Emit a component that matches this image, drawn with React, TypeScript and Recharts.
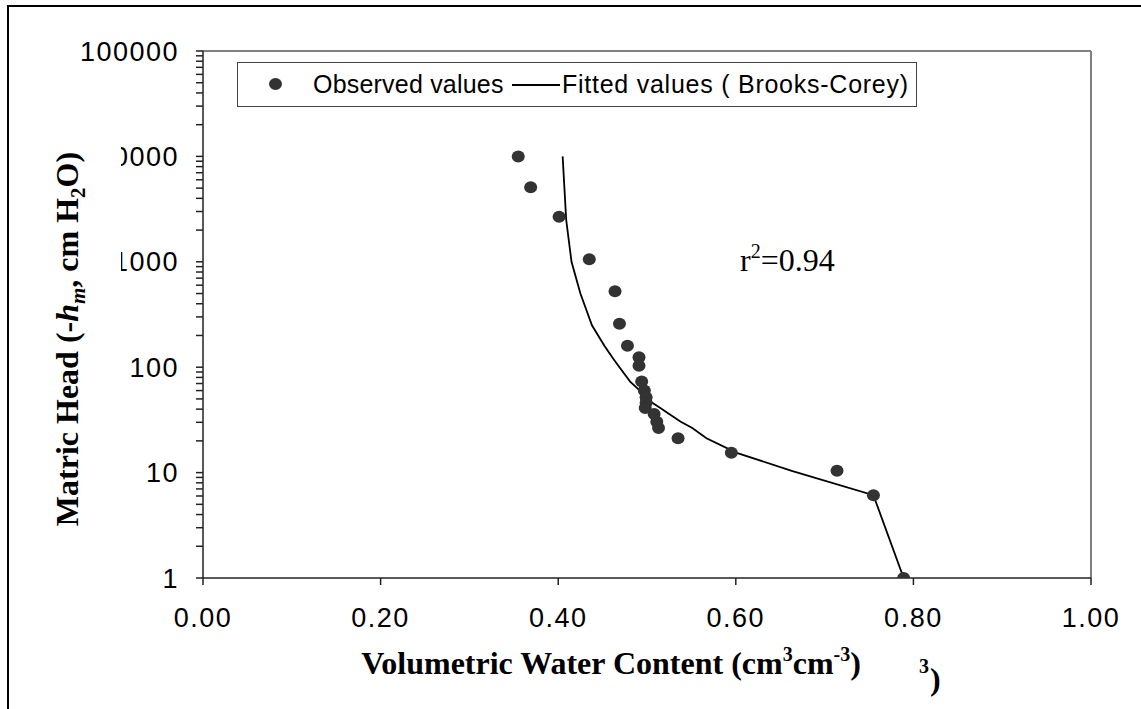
import { ComposedChart, Scatter, XAxis, YAxis, Legend, ReferenceLine, Label } from 'recharts';

// observed retention points (theta, -h)
const observedTheta = [0.355, 0.369, 0.401, 0.435, 0.464, 0.469, 0.478, 0.491, 0.491, 0.494, 0.497, 0.499, 0.499, 0.498, 0.508, 0.511, 0.513, 0.535, 0.595, 0.714, 0.755, 0.789];
const observedHead = [10000, 5100, 2680, 1060, 525, 259, 160, 124, 103, 73, 60, 52, 46, 41, 36, 30.4, 26.5, 21.2, 15.4, 10.4, 6.1, 1];

// fitted Brooks-Corey curve
const fittedTheta = [0.405, 0.407, 0.409, 0.415, 0.425, 0.438, 0.452, 0.462, 0.469, 0.481, 0.492, 0.498, 0.506, 0.515, 0.525, 0.538, 0.551, 0.567, 0.601, 0.663, 0.755, 0.789];
const fittedHead = [10000, 5000, 2500, 1000, 500, 250, 160, 120, 100, 73, 60, 52, 46, 41, 36, 30.4, 26.5, 21.2, 15.4, 10.4, 6.1, 1];

const xTicks = [0, 0.2, 0.4, 0.6, 0.8, 1];
const yDecades = [1, 10, 100, 1000, 10000, 100000];
const minorSteps = [2, 3, 4, 5, 6, 7, 8, 9];
// labels partly hidden behind the title's text box in the original
const clippedLabels = [1000, 10000];

const observed = observedTheta.map((t, i) => ({ theta: t, head: observedHead[i] }));
const fitted = fittedTheta.map((t, i) => ({ theta: t, head: fittedHead[i] }));

const yTicks: number[] = [];
yDecades.forEach((d, i) => {
  yTicks.push(d);
  if (i < yDecades.length - 1) minorSteps.forEach((m) => yTicks.push(d * m));
});

const SANS = '"Liberation Sans", Arial, sans-serif';
const SERIF = '"Liberation Serif", "Times New Roman", serif';

const Dot = (props: any) => (
  <ellipse cx={props.cx} cy={props.cy} rx={6.5} ry={6} fill="#333333" />
);

const NoShape = () => <g />;

const YTick = (props: any) => {
  const { x, y, payload } = props;
  const v = payload.value;
  if (!yDecades.includes(v)) return <g />;
  const clip = clippedLabels.includes(v);
  return (
    <g>
      {clip && (
        <defs>
          <clipPath id={`yclip-${v}`}>
            <rect x={121} y={y - 30} width={200} height={60} />
          </clipPath>
        </defs>
      )}
      <text
        x={x}
        y={y}
        dy="0.355em"
        textAnchor="end"
        fontSize={27}
        fill="#000"
        fontFamily={SANS}
        letterSpacing={1.5}
        clipPath={clip ? `url(#yclip-${v})` : undefined}
      >
        {String(v)}
      </text>
    </g>
  );
};

const renderLegend = () => (
  <div
    style={{
      position: 'relative',
      width: 680,
      height: 45,
      boxSizing: 'border-box',
      border: '1.5px solid #444',
      background: '#fff',
      fontFamily: SANS,
      fontSize: 25,
      color: '#000',
    }}
  >
    <span style={{ position: 'absolute', left: 31, top: 15, width: 13, height: 12, borderRadius: '50%', background: '#333' }} />
    <span style={{ position: 'absolute', left: 75, top: 6, lineHeight: '30px', whiteSpace: 'nowrap', letterSpacing: 0.2 }}>Observed values</span>
    <span style={{ position: 'absolute', left: 274, top: 21, width: 48, height: 2, background: '#000' }} />
    <span style={{ position: 'absolute', left: 324, top: 6, lineHeight: '30px', whiteSpace: 'nowrap', letterSpacing: 0.75 }}>Fitted values ( Brooks-Corey)</span>
  </div>
);

const renderYTitle = () => (
  <text
    x={78}
    y={339}
    transform="rotate(-90, 78, 339)"
    textAnchor="middle"
    fontFamily={SERIF}
    fontWeight="bold"
    fontSize={32}
    fill="#000"
  >
    Matric Head (-<tspan fontStyle="italic">h</tspan>
    <tspan fontStyle="italic" fontSize={21} dy={7}>m</tspan>
    <tspan dy={-7}>, cm H</tspan>
    <tspan fontSize={21} dy={7}>2</tspan>
    <tspan dy={-7}>O)</tspan>
  </text>
);

const renderXTitle = () => (
  <g fontFamily={SERIF} fill="#000">
    <text x={611} y={674} textAnchor="middle" fontWeight="bold" fontSize={32}>
      Volumetric Water Content (cm<tspan fontSize={20} dy={-13}>3</tspan>
      <tspan dy={13}>cm</tspan>
      <tspan fontSize={20} dy={-13}>-3</tspan>
      <tspan dy={13}>)</tspan>
    </text>
    <text x={919} y={673} fontWeight="bold" fontSize={20}>3</text>
    <text x={930} y={690} fontWeight="bold" fontSize={32}>)</text>
    <text x={740} y={271} fontSize={32}>
      r<tspan fontSize={20} dy={-13}>2</tspan>
      <tspan dy={13}>=0.94</tspan>
    </text>
  </g>
);

export default function App() {
  return (
    <div style={{ position: 'absolute', left: 0, top: 0, width: 1141, height: 709, overflow: 'hidden', background: '#fff' }}>
      <ComposedChart width={1141} height={709} margin={{ top: 51, right: 50, bottom: 0, left: 0 }}>
        <XAxis
          type="number"
          dataKey="theta"
          domain={[0, 1]}
          ticks={xTicks}
          interval={0}
          tickFormatter={(v: number) => v.toFixed(2)}
          height={131}
          tickSize={7}
          tickMargin={23}
          stroke="#222"
          strokeWidth={1.5}
          tick={{ fontSize: 27, fill: '#000', fontFamily: SANS, letterSpacing: 1.5 }}
          allowDataOverflow
        >
          <Label content={renderXTitle} />
        </XAxis>
        <YAxis
          type="number"
          dataKey="head"
          scale="log"
          domain={[1, 100000]}
          ticks={yTicks}
          interval={0}
          width={203}
          tickSize={7}
          tickMargin={17}
          stroke="#222"
          strokeWidth={1.5}
          tick={YTick}
          allowDataOverflow
        >
          <Label content={renderYTitle} />
        </YAxis>
        <ReferenceLine y={100000} stroke="#808080" strokeWidth={2} />
        <ReferenceLine x={1} stroke="#808080" strokeWidth={2} />
        <Legend
          layout="horizontal"
          verticalAlign="middle"
          align="center"
          content={renderLegend}
          wrapperStyle={{ position: 'absolute', left: 237, top: 62, width: 680, height: 45 }}
        />
        <Scatter
          name="Fitted values ( Brooks-Corey)"
          data={fitted}
          dataKey="head"
          line={{ stroke: '#000', strokeWidth: 1.8 }}
          shape={NoShape}
          isAnimationActive={false}
        />
        <Scatter
          name="Observed values"
          data={observed}
          dataKey="head"
          shape={Dot}
          isAnimationActive={false}
        />
      </ComposedChart>
      <div
        style={{
          position: 'absolute',
          left: 7,
          top: 5,
          width: 1300,
          height: 900,
          borderLeft: '2px solid #000',
          borderTop: '2px solid #000',
          pointerEvents: 'none',
        }}
      />
    </div>
  );
}
